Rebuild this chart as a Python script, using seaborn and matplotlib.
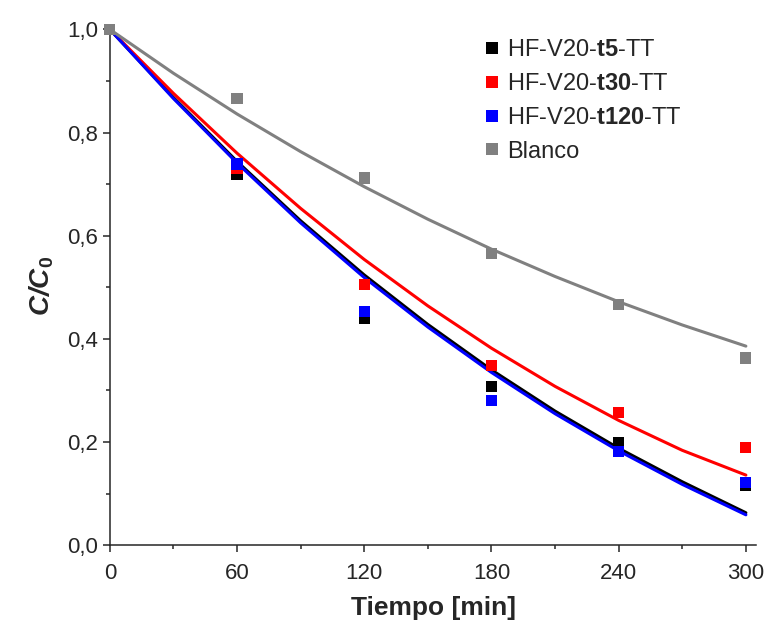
import numpy as np
import pandas as pd
import matplotlib
matplotlib.use('Agg')
import matplotlib.pyplot as plt
from matplotlib.ticker import MultipleLocator, FuncFormatter
import seaborn as sns

## measured points (C/C0 vs time in min)
tiempo = [0, 60, 120, 180, 240, 300]
c_t5 = [1.0, 0.718, 0.440, 0.308, 0.200, 0.115]
c_t30 = [1.0, 0.731, 0.505, 0.349, 0.258, 0.190]
c_t120 = [1.0, 0.739, 0.453, 0.281, 0.181, 0.121]
c_blanco = [1.0, 0.866, 0.712, 0.565, 0.467, 0.363]

## fitted curves, every 30 min
tiempo_fit = [0, 30, 60, 90, 120, 150, 180, 210, 240, 270, 300]
fit_t5 = [1.0, 0.868, 0.744, 0.629, 0.524, 0.428, 0.340, 0.260, 0.188, 0.123, 0.063]
fit_t30 = [1.0, 0.876, 0.760, 0.653, 0.554, 0.464, 0.382, 0.308, 0.242, 0.184, 0.136]
fit_t120 = [1.0, 0.866, 0.741, 0.625, 0.519, 0.423, 0.335, 0.255, 0.183, 0.118, 0.059]
fit_blanco = [1.0, 0.915, 0.836, 0.763, 0.695, 0.632, 0.574, 0.521, 0.472, 0.427, 0.386]

nombres = ['HF-V20-$\\mathbf{t5}$-TT', 'HF-V20-$\\mathbf{t30}$-TT',
           'HF-V20-$\\mathbf{t120}$-TT', 'Blanco']
colores = ['#000000', '#ff0000', '#0000ff', '#808080']

puntos = pd.DataFrame({
    'Tiempo': tiempo * 4,
    'C': c_t5 + c_t30 + c_t120 + c_blanco,
    'Muestra': [n for n in nombres for _ in tiempo],
})
ajuste = pd.DataFrame({
    'Tiempo': tiempo_fit * 4,
    'C': fit_t5 + fit_t30 + fit_t120 + fit_blanco,
    'Muestra': [n for n in nombres for _ in tiempo_fit],
})
paleta = dict(zip(nombres, colores))

sns.set_style('ticks')
plt.rcParams['font.family'] = ['Liberation Sans', 'DejaVu Sans']
plt.rcParams['mathtext.fontset'] = 'custom'
plt.rcParams['mathtext.rm'] = 'Liberation Sans'
plt.rcParams['mathtext.it'] = 'Liberation Sans:italic'
plt.rcParams['mathtext.bf'] = 'Liberation Sans:bold'
plt.rcParams['mathtext.bfit'] = 'Liberation Sans:italic:bold'

fig = plt.figure(figsize=(7.68, 6.26), dpi=100)
ax = fig.add_axes([0.143, 0.129, 0.842, 0.829])

sns.lineplot(data=ajuste, x='Tiempo', y='C', hue='Muestra', palette=paleta,
             hue_order=nombres, linewidth=2.2, legend=False, ax=ax)
sns.scatterplot(data=puntos, x='Tiempo', y='C', hue='Muestra', palette=paleta,
                hue_order=nombres, marker='s', s=64, linewidth=0, ax=ax,
                clip_on=False, zorder=3)

ax.set_xlim(0, 305)
ax.set_ylim(0, 1.006)
ax.xaxis.set_major_locator(MultipleLocator(60))
ax.xaxis.set_minor_locator(MultipleLocator(30))
ax.yaxis.set_major_locator(MultipleLocator(0.2))
ax.yaxis.set_minor_locator(MultipleLocator(0.1))
ax.yaxis.set_major_formatter(FuncFormatter(lambda v, p: f'{v:.1f}'.replace('.', ',')))
ax.tick_params(which='major', direction='out', length=5, width=1.1, labelsize=16)
ax.tick_params(axis='x', which='major', pad=7.5)
ax.tick_params(which='minor', direction='out', length=3, width=1.1)
for s in ['left', 'bottom']:
    ax.spines[s].set_linewidth(1.1)
sns.despine(ax=ax)

ax.set_xlabel('Tiempo [min]', fontsize=19, fontweight='bold', labelpad=9)
ax.set_ylabel('$\\mathbfit{C/C}_\\mathbf{0}$', fontsize=20, labelpad=8)

leg = ax.legend(loc='upper left', bbox_to_anchor=(0.576, 0.975), frameon=False,
                fontsize=17, handlelength=0.8, handletextpad=0.25,
                labelspacing=0.5, borderpad=0, borderaxespad=0)

plt.savefig('out.png', dpi=100)
